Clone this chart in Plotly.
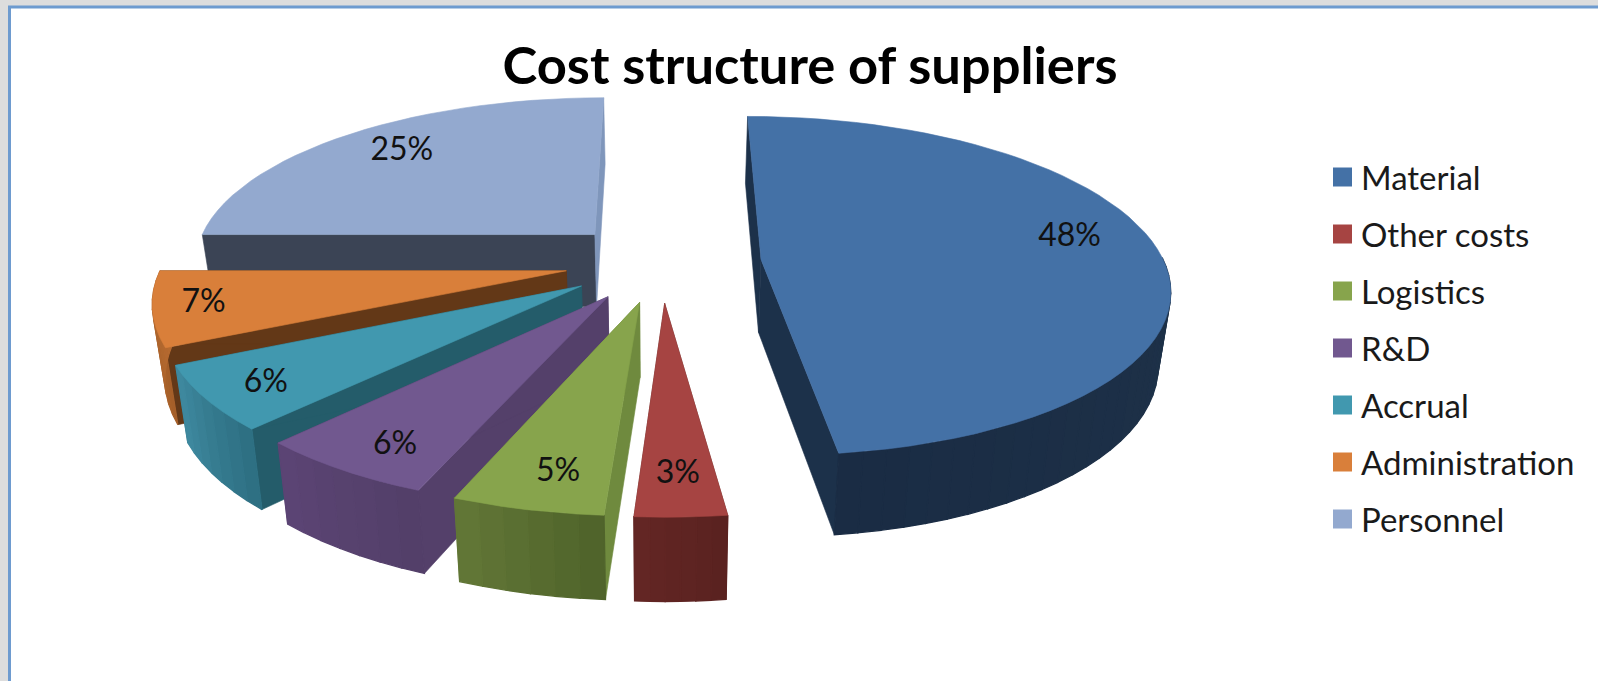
import math
import plotly.graph_objects as go

# Chart data
title_text = "Cost structure of suppliers"
categories = ["Material", "Other costs", "Logistics", "R&D", "Accrual", "Administration", "Personnel"]
values = [48, 3, 5, 6, 6, 7, 25]

# Colours per slice: top face, start-edge wall, end-edge wall, rim wall (two ends of its shading)
top_colors = ["#4471A6", "#A64442", "#87A44C", "#71588F", "#4198AF", "#D97F3A", "#93A9CF"]
start_wall = ["#1C314A", "#5E2422", "#6F8A3E", "#54406A", "#245C6A", "#633817", "#3B4455"]
end_wall = ["#1C314A", "#5E2422", "#6F8A3E", "#54406A", "#245C6A", "#633817", "#7F96BB"]
rim_from = ["#23394F", "#632624", "#617636", "#5B4474", "#3E889E", "#B56A30", "#7F96BB"]
rim_to = ["#1A2C44", "#5A2220", "#50642B", "#533F69", "#2E7083", "#A55F29", "#7F96BB"]

# Projection of the exploded disc
CX, CY = 661.5, 262.0
RADIUS = 403.0
FLATTEN = 0.412
PERSPECTIVE = 0.156
EXPLODE = [0.248, 0.24, 0.24, 0.24, 0.24, 0.24, 0.24]
THICKNESS = 75.0
LOWER_SCALE = 0.975
LABEL_RADIUS = [0.80, 0.83, 0.84, 0.86, 0.86, 0.88, 0.79]
LABEL_TURN_DEG = [-6.0, 0.0, -1.5, -2.0, -1.0, 0.0, 1.0]


def project(u, v, lower=False):
    p = 1.0 / (1.0 - PERSPECTIVE * v)
    s = LOWER_SCALE if lower else 1.0
    z = THICKNESS if lower else 0.0
    return CX + RADIUS * u * p * s, CY + (RADIUS * FLATTEN * v + z) * p * s


def hex_mix(a, b, t):
    ca = [int(a[i:i + 2], 16) for i in (1, 3, 5)]
    cb = [int(b[i:i + 2], 16) for i in (1, 3, 5)]
    return "#%02X%02X%02X" % tuple(round(x + (y - x) * t) for x, y in zip(ca, cb))


def polygon(points, color, edge=0.6):
    xs = [q[0] for q in points] + [points[0][0]]
    ys = [q[1] for q in points] + [points[0][1]]
    return go.Scatter(x=xs, y=ys, mode="lines", fill="toself", fillcolor=color,
                      line=dict(color=color, width=edge), hoverinfo="skip", showlegend=False)


total = sum(values)
spans = []
running = 0.0
for val in values:
    spans.append((running / total * 2 * math.pi, (running + val) / total * 2 * math.pi))
    running += val


def offset(i):
    mid = sum(spans[i]) / 2
    return EXPLODE[i] * math.sin(mid), -EXPLODE[i] * math.cos(mid)


def rim_points(i, n):
    a0, a1 = spans[i]
    ox, oy = offset(i)
    return [(ox + math.sin(a0 + (a1 - a0) * j / n), oy - math.cos(a0 + (a1 - a0) * j / n)) for j in range(n + 1)]


fig = go.Figure()

# Slices are painted back to front
paint_order = [6, 0, 5, 4, 3, 2, 1]
for i in paint_order:
    a0, a1 = spans[i]
    n = max(6, int(round((a1 - a0) / math.radians(3))))
    rim = rim_points(i, n)
    apex = offset(i)
    fig.add_trace(polygon([project(*apex), project(*rim[0]), project(*rim[0], True), project(*apex, True)], start_wall[i]))
    fig.add_trace(polygon([project(*apex), project(*rim[-1]), project(*rim[-1], True), project(*apex, True)], end_wall[i]))
    # Rim wall, shaded in narrow strips; strips facing away from the viewer are skipped
    for j in range(n):
        angle = a0 + (a1 - a0) * (j + 0.5) / n
        if -math.cos(angle) < -0.02:
            continue
        t = j / max(1, n - 1)
        t = 1 - t if rim[0][0] > rim[-1][0] else t
        fig.add_trace(polygon([project(*rim[j]), project(*rim[j + 1]), project(*rim[j + 1], True), project(*rim[j], True)],
                              hex_mix(rim_from[i], rim_to[i], t), edge=1.3))
    fig.add_trace(polygon([project(*apex)] + [project(*q) for q in rim], top_colors[i]))

# Percentage labels on the top faces
label_x, label_y, label_text = [], [], []
for i, val in enumerate(values):
    mid = sum(spans[i]) / 2 + math.radians(LABEL_TURN_DEG[i])
    ox, oy = offset(i)
    lx, ly = project(ox + LABEL_RADIUS[i] * math.sin(mid), oy - LABEL_RADIUS[i] * math.cos(mid))
    label_x.append(lx)
    label_y.append(ly)
    label_text.append(f"{val}%")
fig.add_trace(go.Scatter(x=label_x, y=label_y, text=label_text, mode="text", textposition="middle center",
                         textfont=dict(family="Lato", size=32, color="#111111"), hoverinfo="skip", showlegend=False))

# Legend column
LEGEND_KEY_X = 1342.5
LEGEND_TEXT_X = 1361
LEGEND_TOP = 177
LEGEND_STEP = 57
key_y = [LEGEND_TOP + LEGEND_STEP * i for i in range(len(categories))]
fig.add_trace(go.Scatter(x=[LEGEND_KEY_X] * len(categories), y=key_y, mode="markers",
                         marker=dict(symbol="square", size=19, color=top_colors, line=dict(width=0)),
                         hoverinfo="skip", showlegend=False))
fig.add_trace(go.Scatter(x=[LEGEND_TEXT_X] * len(categories), y=[y + 5 for y in key_y], text=categories, mode="text",
                         textposition="middle right",
                         textfont=dict(family="Lato", size=33, color="#1A1A1A"), hoverinfo="skip", showlegend=False))

fig.update_layout(
    width=1598, height=681,
    margin=dict(l=0, r=0, t=0, b=0),
    paper_bgcolor="#DDDDDD", plot_bgcolor="#DDDDDD",
    showlegend=False,
    title=dict(text=f"<b>{title_text}</b>", x=810 / 1598, xanchor="center", y=1 - 66 / 681, yanchor="middle",
               font=dict(family="Lato", size=52.5, color="#000000")),
    xaxis=dict(range=[0, 1598], visible=False, fixedrange=True),
    yaxis=dict(range=[681, 0], visible=False, fixedrange=True),
    shapes=[dict(type="rect", xref="x", yref="y", x0=9.5, y0=7, x1=1660, y1=740,
                 fillcolor="#FFFFFF", line=dict(color="#6E9BCF", width=3), layer="below")],
)

fig.write_html("out.html")
